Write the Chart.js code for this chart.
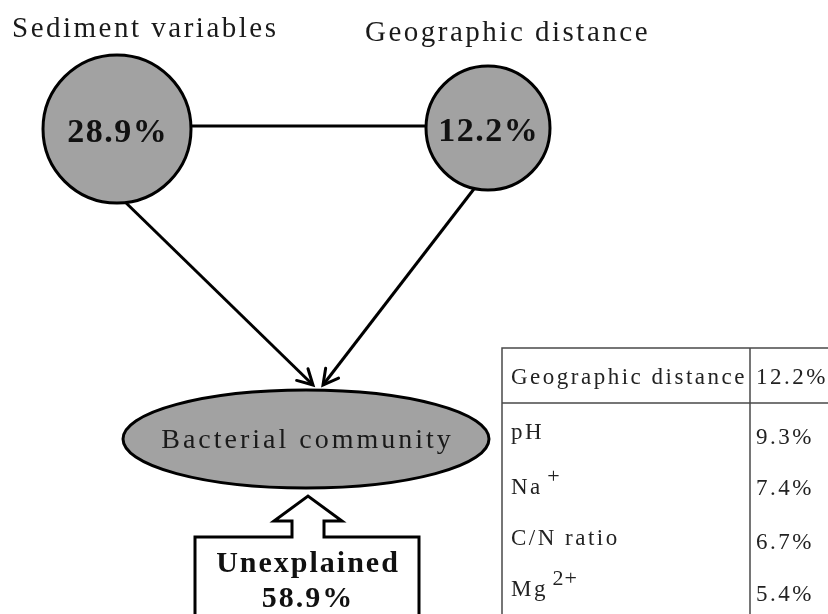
<!DOCTYPE html>
<html>
<head>
<meta charset="utf-8">
<script src="https://cdn.jsdelivr.net/npm/chart.js@4.4.1/dist/chart.umd.min.js"></script>
<style>
  html, body { margin: 0; padding: 0; background: #fff; }
  #wrap { width: 828px; height: 614px; position: relative; }
</style>
</head>
<body>
<div id="wrap"><canvas id="diagram"></canvas></div>
<script>
// variance partitioning of the bacterial community
const nodeLabels = ['Sediment variables', 'Geographic distance'];
const nodeShares = [28.9, 12.2];
const targetLabel = 'Bacterial community';
const unexplainedLabel = 'Unexplained';
const unexplainedShare = 58.9;
const tableLabels = ['Geographic distance', 'pH', 'Na', 'C/N ratio', 'Mg'];
const tableSuperscripts = ['', '', '+', '', '2+'];
const tableShares = [12.2, 9.3, 7.4, 6.7, 5.4];

// layout, in the units of the hidden axes (x 0..828, y 0..614 downwards)
const nodeX = [117, 488];
const nodeY = [129, 128];
const nodeR = [74, 62];
const arrowFrom = [{ x: 121, y: 198 }, { x: 477, y: 185 }];
const arrowTo = [{ x: 313, y: 385 }, { x: 323, y: 385 }];
const titlePos = [{ x: 12, y: 37 }, { x: 365, y: 41 }];
const target = { x: 306, y: 439, rx: 183, ry: 49 };
const hollow = { x: 308, tip: 496, wing: 521, base: 537, shaft: 16, wingW: 34, left: 195, right: 419, bottom: 640 };
const table = { left: 502, mid: 750, right: 840, top: 348, head: 403, bottom: 640, textX: 511, valX: 756 };
const rowBase = [384, 439, 494, 545, 596];
const valBase = [384, 444, 495, 549, 601];

const GREY = '#a2a2a2';
const SERIF = '"Liberation Serif", "DejaVu Serif", serif';

const pct = v => v.toFixed(1) + '%';

function drawText(ctx, txt, x, y, font, spacing, align) {
  ctx.font = font;
  ctx.letterSpacing = spacing + 'px';
  ctx.textAlign = 'left';
  ctx.textBaseline = 'alphabetic';
  let w = ctx.measureText(txt).width - spacing;
  let x0 = align === 'center' ? x - w / 2 : x;
  ctx.fillText(txt, x0, y);
  ctx.letterSpacing = '0px';
  return x0 + w;
}

const diagramPlugin = {
  id: 'diagram',
  afterDatasetsDraw(chart) {
    const ctx = chart.ctx;
    const sx = v => chart.scales.x.getPixelForValue(v);
    const sy = v => chart.scales.y.getPixelForValue(v);
    ctx.save();

    // arrow heads
    ctx.strokeStyle = '#000';
    ctx.lineWidth = 3;
    ctx.lineCap = 'round';
    ctx.lineJoin = 'miter';
    arrowTo.forEach((t, i) => {
      const f = arrowFrom[i];
      const tx = sx(t.x), ty = sy(t.y);
      const a = Math.atan2(ty - sy(f.y), tx - sx(f.x));
      const len = 17, spread = 0.5;
      ctx.beginPath();
      ctx.moveTo(tx - len * Math.cos(a - spread), ty - len * Math.sin(a - spread));
      ctx.lineTo(tx, ty);
      ctx.lineTo(tx - len * Math.cos(a + spread), ty - len * Math.sin(a + spread));
      ctx.stroke();
    });

    // target ellipse
    ctx.beginPath();
    ctx.ellipse(sx(target.x), sy(target.y), target.rx, target.ry, 0, 0, Math.PI * 2);
    ctx.fillStyle = GREY;
    ctx.fill();
    ctx.lineWidth = 3;
    ctx.stroke();

    // hollow arrow with unexplained box
    const h = hollow;
    ctx.beginPath();
    ctx.moveTo(sx(h.left), sy(h.bottom));
    ctx.lineTo(sx(h.left), sy(h.base));
    ctx.lineTo(sx(h.x - h.shaft), sy(h.base));
    ctx.lineTo(sx(h.x - h.shaft), sy(h.wing));
    ctx.lineTo(sx(h.x - h.wingW), sy(h.wing));
    ctx.lineTo(sx(h.x), sy(h.tip));
    ctx.lineTo(sx(h.x + h.wingW), sy(h.wing));
    ctx.lineTo(sx(h.x + h.shaft), sy(h.wing));
    ctx.lineTo(sx(h.x + h.shaft), sy(h.base));
    ctx.lineTo(sx(h.right), sy(h.base));
    ctx.lineTo(sx(h.right), sy(h.bottom));
    ctx.fillStyle = '#fff';
    ctx.fill();
    ctx.lineJoin = 'miter';
    ctx.stroke();

    // table rules
    ctx.strokeStyle = '#4a4a4a';
    ctx.lineWidth = 1.5;
    ctx.beginPath();
    ctx.moveTo(sx(table.left), sy(table.bottom));
    ctx.lineTo(sx(table.left), sy(table.top));
    ctx.lineTo(sx(table.right), sy(table.top));
    ctx.moveTo(sx(table.left), sy(table.head));
    ctx.lineTo(sx(table.right), sy(table.head));
    ctx.moveTo(sx(table.mid), sy(table.top));
    ctx.lineTo(sx(table.mid), sy(table.bottom));
    ctx.stroke();

    // texts
    ctx.fillStyle = '#1a1a1a';
    nodeLabels.forEach((lab, i) => {
      drawText(ctx, lab, sx(titlePos[i].x), sy(titlePos[i].y), '29px ' + SERIF, 2.5, 'left');
    });
    ctx.fillStyle = '#111';
    nodeShares.forEach((v, i) => {
      drawText(ctx, pct(v), sx(nodeX[i]), sy(nodeY[i] + 13), 'bold 34px ' + SERIF, 1.5, 'center');
    });
    ctx.fillStyle = '#1a1a1a';
    drawText(ctx, targetLabel, sx(target.x), sy(target.y + 9), '28px ' + SERIF, 3, 'center');
    ctx.fillStyle = '#111';
    drawText(ctx, unexplainedLabel, sx(h.x - 1), sy(572), 'bold 30px ' + SERIF, 2, 'center');
    drawText(ctx, pct(unexplainedShare), sx(h.x - 1), sy(607), 'bold 30px ' + SERIF, 2, 'center');

    ctx.fillStyle = '#222';
    tableLabels.forEach((lab, i) => {
      const end = drawText(ctx, lab, sx(table.textX), sy(rowBase[i]), '23px ' + SERIF, 2.5, 'left');
      if (tableSuperscripts[i]) {
        drawText(ctx, tableSuperscripts[i], end + 7, sy(rowBase[i] - 11), '22px ' + SERIF, 1, 'left');
      }
      drawText(ctx, pct(tableShares[i]), sx(table.valX), sy(valBase[i]), '23px ' + SERIF, 2.5, 'left');
    });
    ctx.restore();
  }
};

new Chart(document.getElementById('diagram'), {
  type: 'bubble',
  data: {
    datasets: [
      {
        label: 'explanatory groups',
        data: nodeX.map((x, i) => ({ x: x, y: nodeY[i], r: nodeR[i] })),
        backgroundColor: GREY,
        borderColor: '#000',
        borderWidth: 3,
        order: 0
      },
      {
        type: 'line',
        label: 'shared',
        data: nodeX.map((x, i) => ({ x: x, y: 126 })),
        borderColor: '#000',
        borderWidth: 3,
        pointRadius: 0,
        fill: false,
        order: 1
      },
      ...arrowFrom.map((f, i) => ({
        type: 'line',
        label: 'effect ' + (i + 1),
        data: [f, arrowTo[i]],
        borderColor: '#000',
        borderWidth: 3,
        pointRadius: 0,
        fill: false,
        order: 1
      }))
    ]
  },
  options: {
    responsive: true,
    maintainAspectRatio: false,
    animation: false,
    events: [],
    layout: { padding: 0, autoPadding: false },
    plugins: { legend: { display: false }, tooltip: { enabled: false } },
    scales: {
      x: { type: 'linear', min: 0, max: 828, display: false },
      y: { type: 'linear', min: 0, max: 614, reverse: true, display: false }
    }
  },
  plugins: [diagramPlugin]
});
</script>
</body>
</html>
